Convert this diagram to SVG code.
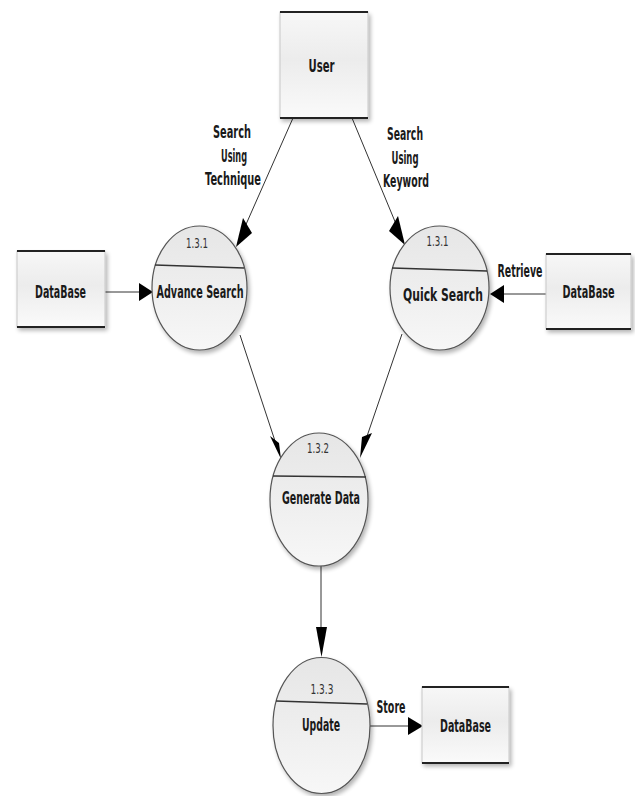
<svg xmlns="http://www.w3.org/2000/svg" width="635" height="796" viewBox="0 0 635 796">
  <defs>
    <linearGradient id="gBox" x1="0" y1="0" x2="0" y2="1">
      <stop offset="0" stop-color="#f7f7f7"/>
      <stop offset="0.45" stop-color="#ececec"/>
      <stop offset="1" stop-color="#fafafa"/>
    </linearGradient>
    <linearGradient id="gEll" x1="0" y1="0" x2="0" y2="1">
      <stop offset="0" stop-color="#e6e6e6"/>
      <stop offset="0.5" stop-color="#eeeeee"/>
      <stop offset="1" stop-color="#f7f7f7"/>
    </linearGradient>
    <filter id="sh" x="-20%" y="-20%" width="150%" height="150%">
      <feGaussianBlur in="SourceAlpha" stdDeviation="2"/>
      <feOffset dx="2" dy="3" result="b"/>
      <feComponentTransfer><feFuncA type="linear" slope="0.3"/></feComponentTransfer>
      <feMerge><feMergeNode/><feMergeNode in="SourceGraphic"/></feMerge>
    </filter>
  </defs>
  <style>
    .box { fill: url(#gBox); stroke: #c8c8c8; stroke-width: 1; }
    .edge { stroke: #222; stroke-width: 2.2; }
    .ell { fill: url(#gEll); stroke: #555; stroke-width: 1.2; }
    .div { stroke: #333; stroke-width: 1.5; fill: none; }
    .lbl { font-family: "DejaVu Sans", "Liberation Sans", sans-serif; font-weight: bold; font-size: 17px; fill: #1a1a1a; text-anchor: middle; }
    .num { font-family: "DejaVu Sans", "Liberation Sans", sans-serif; font-size: 14px; fill: #333; text-anchor: middle; }
    .line { stroke: #333; stroke-width: 1; fill: none; }
    .head { fill: #000; }
  </style>

  <g id="connectors">
    <line class="line" x1="293" y1="118" x2="240" y2="238"/>
    <polygon class="head" points="236,247 243,218 252,233"/>
    <line class="line" x1="352" y1="118" x2="401" y2="236"/>
    <polygon class="head" points="405,245 398,216 389,231"/>
    <line class="line" x1="105" y1="292" x2="142" y2="292"/>
    <polygon class="head" points="153,292 139,283 139,301"/>
    <line class="line" x1="546" y1="294" x2="500" y2="294"/>
    <polygon class="head" points="490,294 504,285 504,303"/>
    <line class="line" x1="240" y1="335" x2="277" y2="447"/>
    <polygon class="head" points="281,459 270,436 279,443"/>
    <line class="line" x1="402" y1="334" x2="364" y2="445"/>
    <polygon class="head" points="360,458 362,437 372,433"/>
    <line class="line" x1="321" y1="566" x2="321" y2="640"/>
    <polygon class="head" points="321.5,657 316,627 327,627"/>
    <line class="line" x1="370" y1="726" x2="410" y2="726"/>
    <polygon class="head" points="423,726 408,717 408,735"/>
    <text class="lbl" x="232" y="138" textLength="38" lengthAdjust="spacingAndGlyphs">Search</text>
    <text class="lbl" x="234" y="162" textLength="26" lengthAdjust="spacingAndGlyphs">Using</text>
    <text class="lbl" x="233" y="185" textLength="56" lengthAdjust="spacingAndGlyphs">Technique</text>
    <text class="lbl" x="405" y="140" textLength="36" lengthAdjust="spacingAndGlyphs">Search</text>
    <text class="lbl" x="405" y="164" textLength="27" lengthAdjust="spacingAndGlyphs">Using</text>
    <text class="lbl" x="406" y="187" textLength="46" lengthAdjust="spacingAndGlyphs">Keyword</text>
    <text class="lbl" x="520" y="277" textLength="45" lengthAdjust="spacingAndGlyphs">Retrieve</text>
    <text class="lbl" x="391" y="713" textLength="29" lengthAdjust="spacingAndGlyphs">Store</text>
  </g>

  <g id="user">
    <rect class="box" x="280" y="12" width="88" height="106" filter="url(#sh)"/>
    <line class="edge" x1="280" y1="12" x2="368" y2="12"/>
    <line class="edge" x1="280" y1="118" x2="368" y2="118"/>
    <text class="lbl" x="321.5" y="72" font-size="19" textLength="26" lengthAdjust="spacingAndGlyphs">User</text>
  </g>

  <g id="database-left">
    <rect class="box" x="17" y="251" width="88" height="76" filter="url(#sh)"/>
    <line class="edge" x1="17" y1="251" x2="105" y2="251"/>
    <line class="edge" x1="17" y1="327" x2="105" y2="327"/>
    <text class="lbl" x="60.5" y="298" textLength="51" lengthAdjust="spacingAndGlyphs">DataBase</text>
  </g>

  <g id="database-right">
    <rect class="box" x="546" y="254" width="85" height="75" filter="url(#sh)"/>
    <line class="edge" x1="546" y1="254" x2="631" y2="254"/>
    <line class="edge" x1="546" y1="329" x2="631" y2="329"/>
    <text class="lbl" x="588.5" y="298" textLength="52" lengthAdjust="spacingAndGlyphs">DataBase</text>
  </g>

  <g id="database-bottom">
    <rect class="box" x="422" y="687" width="87" height="76" filter="url(#sh)"/>
    <line class="edge" x1="422" y1="687" x2="509" y2="687"/>
    <line class="edge" x1="422" y1="763" x2="509" y2="763"/>
    <text class="lbl" x="465.5" y="732" textLength="51" lengthAdjust="spacingAndGlyphs">DataBase</text>
  </g>

  <g id="advance-search">
    <ellipse class="ell" cx="199.5" cy="288" rx="47.5" ry="62" filter="url(#sh)"/>
    <path class="div" d="M155,265 L244,268"/>
    <text class="num" x="197" y="248" textLength="22" lengthAdjust="spacingAndGlyphs">1.3.1</text>
    <text class="lbl" x="200" y="298" textLength="87" lengthAdjust="spacingAndGlyphs">Advance Search</text>
  </g>

  <g id="quick-search">
    <ellipse class="ell" cx="439.5" cy="288" rx="49.5" ry="62" filter="url(#sh)"/>
    <path class="div" d="M392,268 L487,271"/>
    <text class="num" x="437.5" y="246" textLength="22" lengthAdjust="spacingAndGlyphs">1.3.1</text>
    <text class="lbl" x="443" y="301" textLength="80" lengthAdjust="spacingAndGlyphs">Quick Search</text>
  </g>

  <g id="generate-data">
    <ellipse class="ell" cx="319" cy="499.5" rx="49" ry="66.5" filter="url(#sh)"/>
    <path class="div" d="M273,476 L366,477"/>
    <text class="num" x="318" y="453" textLength="22" lengthAdjust="spacingAndGlyphs">1.3.2</text>
    <text class="lbl" x="321" y="504" textLength="78" lengthAdjust="spacingAndGlyphs">Generate Data</text>
  </g>

  <g id="update">
    <ellipse class="ell" cx="321.5" cy="725.5" rx="48.5" ry="68" filter="url(#sh)"/>
    <path class="div" d="M276,701 L367,704"/>
    <text class="num" x="322" y="694" textLength="23" lengthAdjust="spacingAndGlyphs">1.3.3</text>
    <text class="lbl" x="321" y="731" textLength="38" lengthAdjust="spacingAndGlyphs">Update</text>
  </g>
</svg>
